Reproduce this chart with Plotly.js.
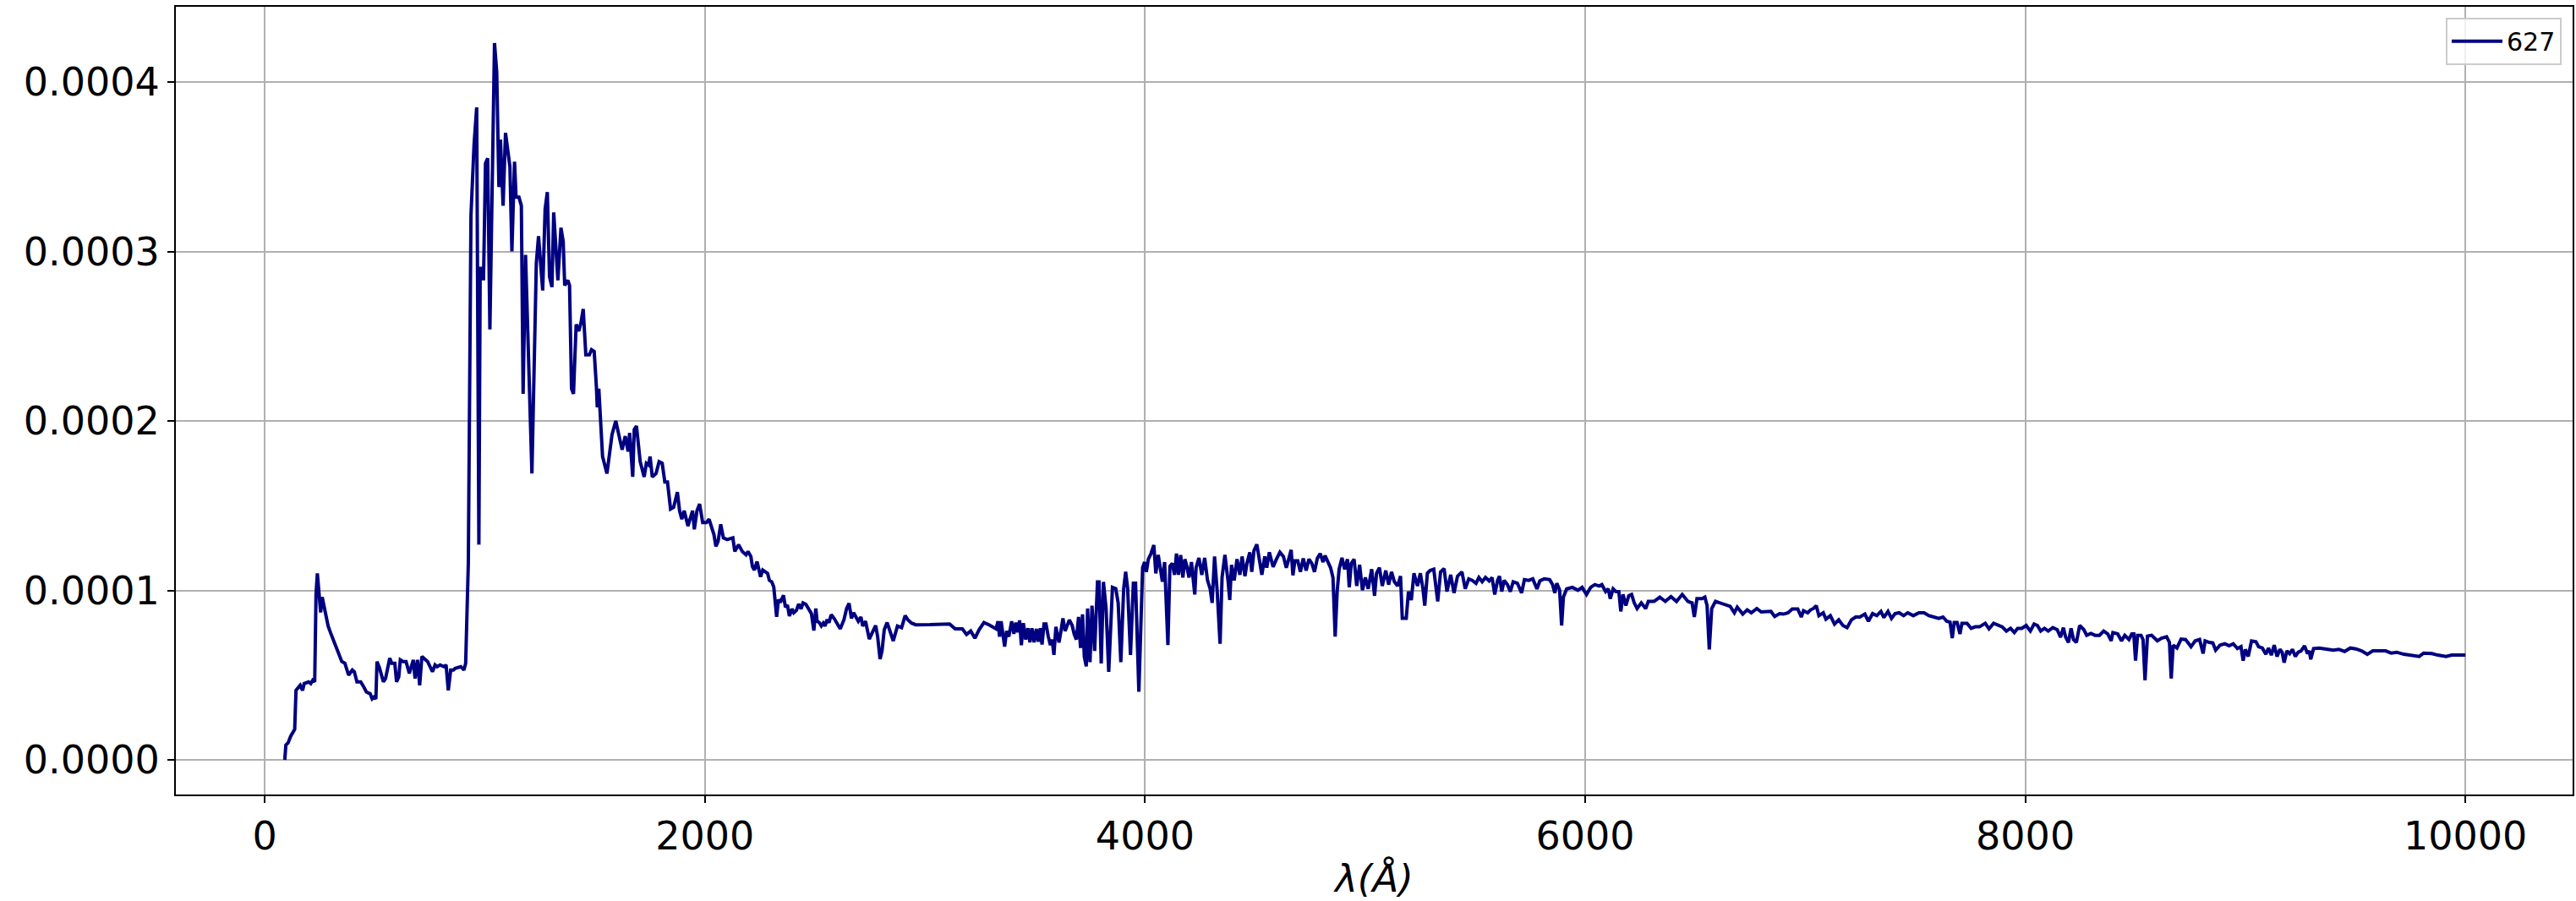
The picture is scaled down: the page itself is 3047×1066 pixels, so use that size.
<!DOCTYPE html>
<html>
<head>
<meta charset="utf-8">
<script src="https://cdn.plot.ly/plotly-3.0.1.min.js"></script>
<style>html,body{margin:0;padding:0;background:#fff;}#chart{width:3047px;height:1066px;}</style>
</head>
<body>
<div id="chart"></div>
<script>
// Wavelength (Angstrom)
const wavelength = [
91,96,106,118,136,142,161,172,179,199,209,218,227,233,239,245,254,261,276,288,299,316,333,350,364,381,398,407,419,436,450,462,479,488,496,505,510,522,539,549,568,577,591,599,609,616,628,642,657,675,683,694,704,714,740,750,762,774,783,797,814,824,834,845,857,865,891,905,913,925,937,951,963,973,979,987,994,1003,1013,1023,1044,1054,1064,1071,1083,1094,1114,1123,1135,1142,1155,1166,1174,1185,1214,1234,1244,1263,1274,1284,1294,1305,1313,1332,1346,1356,1363,1377,1385,1394,1403,1415,1427,1437,1447,1459,1475,1485,1497,1507,1511,1518,1528,1535,1555,1578,1595,1612,1624,1638,1651,1658,1672,1679,1689,1706,1724,1734,1744,1751,1761,1778,1792,1806,1818,1830,1844,1858,1875,1885,1895,1906,1923,1944,1952,1964,1976,1990,2007,2019,2029,2041,2050,2060,2072,2084,2101,2127,2136,2153,2170,2187,2196,2209,2216,2225,2237,2253,2263,2285,2293,2304,2313,2326,2334,2343,2357,2366,2375,2384,2396,2404,2416,2426,2437,
2446,2459,2472,2484,2495,2504,2510,2520,2529,2538,2546,2555,2564,2574,2587,2600,2615,2632,2644,2655,2666,2676,2687,2697,2709,2717,2730,2747,2764,2776,2785,2796,2805,2815,2828,2840,2856,2875,2894,2910,2922,2939,2958,3022,3073,3112,3137,3170,3189,3208,3227,3246,3268,3291,3323,3332,3339,3346,3355,3362,3371,3381,3394,3404,3413,3422,3430,3438,3447,3458,3468,3477,3486,3496,3506,3515,3524,3532,3541,3550,3560,3570,3578,3586,3595,
3609,3618,3627,3637,3647,3656,3669,3678,3688,3698,3707,3716,3724,3733,3739,3750,3759,3771,3784,3791,3801,3811,3823,3835,3852,3867,3878,3890,3903,3912,3921,3934,3947,3957,3972,3983,3989,3998,4006,4015,4027,4040,4049,4060,4070,4079,4089,4104,4113,4124,4134,4143,4152,4162,4172,4181,4190,4200,4211,4226,4232,4245,4258,4271,4284,4296,4305,4316,4328,4341,4350,4363,
4377,4385,4393,4405,4418,4431,4441,4454,4463,4476,4485,4495,4508,4518,4531,4544,4553,4565,4582,4597,4613,4629,4642,4651,4664,4672,4681,4694,4706,4719,4732,4745,4758,4770,4783,4796,4809,4818,4831,4843,4854,4864,4873,4882,4895,4907,4920,4928,4937,4950,4962,4975,4988,5001,5014,5030,5043,5052,5065,5078,5094,5107,5120,5133,5148,5161,5169,5180,5187,5197,5210,5222,5238,5251,5263,5271,5283,5295,5312,5330,5343,5359,5372,5389,5404,5420,5440,5455,5471,5487,5504,5517,
5532,5547,5564,5577,5589,5602,5611,5621,5632,5647,5660,5673,5692,5711,5724,5743,5762,5781,5794,5814,5839,5852,5862,5871,5884,5893,5901,5916,5942,5967,5986,6006,6025,6044,6063,6076,6093,6105,6114,6127,6140,6153,6162,6172,6185,6198,6211,6223,6236,6255,6275,6287,6313,6339,6364,6390,6415,6441,6467,6486,6496,6508,6531,6544,6554,6564,6575,6592,6614,6633,6659,6678,6691,6716,6736,6755,6780,6800,6819,6844,6861,
6883,6902,6922,6941,6966,6982,6992,7011,7024,7037,7050,7062,7082,7094,7114,7133,7152,7171,7190,7210,7229,7248,7271,7287,7306,7325,7344,7357,7376,7392,7408,7427,7447,7466,7491,7517,7540,7562,7587,7607,7626,7643,7658,7668,7677,7690,7703,7712,7735,7754,7773,7792,7818,7835,7856,7876,7895,7914,7933,7950,7965,7984,8004,8023,8040,8055,8070,8087,8104,8125,8145,8160,8173,8183,8196,8208,8219,8232,8247,8266,8279,8298,8317,8337,8356,8375,8390,8398,
8420,8437,8452,8471,8484,8493,8501,8510,8526,8535,8544,8555,8574,8600,8619,8642,8655,8663,8672,8689,8708,8728,8753,8772,8792,8808,8817,8836,8852,8865,8885,8907,8926,8945,8964,8980,8990,9000,9013,9028,9048,9060,9077,9093,9105,9118,9131,9144,9157,9167,9176,9189,9201,9214,9227,9240,9253,9269,9282,9291,9297,9310,9336,9374,9400,9425,9451,9477,9502,9528,9554,9579,9611,9637,9662,9688,9720,9746,9771,9790,9810,9848,9874,9912,9938,10000
];
// Flux for spectrum 627
const flux627 = [
0.0,8.8e-6,1.0e-5,1.4e-5,1.8e-5,4.1e-5,4.4e-5,4.1e-5,4.5e-5,4.6e-5,4.5e-5,4.7e-5,4.6e-5,9.8e-5,1.10e-4,1.01e-4,8.7e-5,9.6e-5,8.7e-5,7.9e-5,7.5e-5,6.9e-5,6.3e-5,5.8e-5,5.7e-5,5.0e-5,5.3e-5,5.2e-5,4.6e-5,4.6e-5,4.3e-5,4.0e-5,3.9e-5,3.6e-5,3.7e-5,3.6e-5,5.8e-5,5.4e-5,4.6e-5,4.8e-5,6.0e-5,5.7e-5,5.7e-5,4.6e-5,4.9e-5,5.9e-5,5.8e-5,5.8e-5,5.1e-5,5.9e-5,4.8e-5,5.9e-5,4.4e-5,6.1e-5,5.8e-5,5.5e-5,5.2e-5,5.6e-5,5.5e-5,5.6e-5,5.5e-5,5.6e-5,4.1e-5,5.3e-5,5.3e-5,5.4e-5,5.5e-5,5.3e-5,5.7e-5,1.16e-4,3.21e-4,3.63e-4,3.85e-4,1.27e-4,2.90e-4,2.90e-4,2.83e-4,3.52e-4,3.55e-4,2.54e-4,4.23e-4,4.06e-4,3.38e-4,3.66e-4,3.27e-4,3.70e-4,3.50e-4,3.00e-4,3.53e-4,3.32e-4,3.32e-4,3.27e-4,2.16e-4,2.98e-4,1.69e-4,2.93e-4,3.09e-4,2.77e-4,3.25e-4,3.35e-4,2.85e-4,2.79e-4,3.23e-4,2.83e-4,3.14e-4,3.06e-4,2.80e-4,2.83e-4,2.80e-4,2.19e-4,2.16e-4,2.57e-4,2.53e-4,2.58e-4,2.66e-4,2.39e-4,2.39e-4,2.42e-4,2.41e-4,2.20e-4,2.08e-4,2.19e-4,1.97e-4,1.79e-4,1.69e-4,1.92e-4,2.00e-4,1.90e-4,1.83e-4,1.91e-4,1.82e-4,1.93e-4,1.67e-4,1.95e-4,1.97e-4,1.76e-4,1.67e-4,1.75e-4,1.74e-4,1.79e-4,1.67e-4,1.69e-4,1.76e-4,1.75e-4,1.64e-4,1.64e-4,1.48e-4,1.49e-4,1.58e-4,1.47e-4,1.42e-4,1.47e-4,1.38e-4,1.47e-4,1.36e-4,1.47e-4,1.51e-4,1.40e-4,1.40e-4,1.42e-4,1.38e-4,1.33e-4,1.26e-4,1.29e-4,1.39e-4,1.31e-4,1.30e-4,1.31e-4,1.23e-4,1.27e-4,1.23e-4,1.21e-4,1.23e-4,1.20e-4,1.14e-4,1.12e-4,1.17e-4,1.08e-4,1.12e-4,1.10e-4,1.06e-4,1.05e-4,1.02e-4,8.44e-5,9.45e-5,9.29e-5,9.71e-5,9.01e-5,9.14e-5,8.49e-5,8.91e-5,8.68e-5,8.82e-5,9.20e-5,8.91e-5,
9.26e-5,9.18e-5,8.93e-5,8.63e-5,7.63e-5,8.93e-5,8.18e-5,8.10e-5,7.90e-5,8.07e-5,7.90e-5,8.27e-5,8.10e-5,8.57e-5,8.35e-5,8.02e-5,7.73e-5,8.27e-5,8.93e-5,9.23e-5,8.35e-5,8.68e-5,8.43e-5,8.18e-5,8.43e-5,7.90e-5,8.18e-5,7.13e-5,7.60e-5,7.93e-5,7.27e-5,5.94e-5,6.44e-5,7.68e-5,8.10e-5,7.68e-5,7.02e-5,7.90e-5,7.80e-5,8.51e-5,8.27e-5,8.07e-5,7.97e-5,7.98e-5,8.02e-5,8.02e-5,7.73e-5,7.73e-5,7.40e-5,7.60e-5,7.18e-5,7.68e-5,8.10e-5,7.97e-5,7.73e-5,8.18e-5,7.27e-5,8.18e-5,7.35e-5,6.69e-5,7.60e-5,7.27e-5,8.18e-5,7.43e-5,8.10e-5,7.52e-5,8.23e-5,6.77e-5,8.07e-5,7.10e-5,7.77e-5,6.94e-5,7.77e-5,6.94e-5,7.73e-5,6.97e-5,7.77e-5,6.80e-5,8.02e-5,8.02e-5,7.30e-5,6.77e-5,7.10e-5,6.19e-5,7.85e-5,
6.93e-5,7.60e-5,8.35e-5,7.60e-5,7.93e-5,8.26e-5,7.93e-5,7.43e-5,7.10e-5,8.43e-5,6.60e-5,8.59e-5,6.10e-5,5.52e-5,8.93e-5,5.77e-5,9.10e-5,6.43e-5,1.05e-4,1.05e-4,5.69e-5,1.05e-4,8.93e-5,5.19e-5,1.018e-4,1.01e-4,9.26e-5,5.77e-5,1.01e-4,1.11e-4,1.01e-4,6.19e-5,1.042e-4,1.042e-4,4.02e-5,9.93e-5,1.134e-4,1.167e-4,1.109e-4,1.184e-4,1.217e-4,1.267e-4,1.10e-4,1.209e-4,1.117e-4,1.051e-4,1.167e-4,6.77e-5,1.142e-4,1.159e-4,1.092e-4,1.217e-4,1.092e-4,1.209e-4,1.076e-4,1.184e-4,1.142e-4,1.076e-4,1.167e-4,9.76e-5,1.134e-4,1.192e-4,1.092e-4,1.192e-4,1.059e-4,1.009e-4,9.26e-5,1.200e-4,9.93e-5,6.85e-5,1.076e-4,1.209e-4,
1.059e-4,9.43e-5,1.151e-4,1.059e-4,1.184e-4,1.092e-4,1.200e-4,1.084e-4,1.159e-4,1.225e-4,1.109e-4,1.234e-4,1.272e-4,1.200e-4,1.092e-4,1.200e-4,1.134e-4,1.225e-4,1.139e-4,1.184e-4,1.225e-4,1.200e-4,1.134e-4,1.175e-4,1.239e-4,1.089e-4,1.175e-4,1.175e-4,1.109e-4,1.189e-4,1.117e-4,1.184e-4,1.159e-4,1.109e-4,1.189e-4,1.217e-4,1.167e-4,1.205e-4,1.167e-4,1.134e-4,1.076e-4,7.27e-5,9.93e-5,1.125e-4,1.192e-4,1.125e-4,1.184e-4,1.018e-4,1.159e-4,1.184e-4,1.026e-4,1.151e-4,1.001e-4,1.076e-4,1.009e-4,1.125e-4,9.68e-5,1.101e-4,1.134e-4,1.026e-4,1.117e-4,1.034e-4,1.109e-4,1.051e-4,1.026e-4,1.084e-4,8.35e-5,8.35e-5,8.35e-5,9.93e-5,9.43e-5,1.101e-4,1.026e-4,1.101e-4,1.009e-4,9.10e-5,1.101e-4,1.117e-4,1.125e-4,9.35e-5,1.109e-4,1.129e-4,9.93e-5,1.092e-4,9.85e-5,1.084e-4,1.109e-4,1.009e-4,1.068e-4,1.059e-4,1.042e-4,1.076e-4,
1.051e-4,1.076e-4,1.056e-4,1.076e-4,9.76e-5,1.059e-4,1.084e-4,9.93e-5,1.059e-4,1.034e-4,9.93e-5,1.051e-4,1.042e-4,9.85e-5,1.063e-4,1.059e-4,1.068e-4,1.009e-4,1.056e-4,1.068e-4,1.063e-4,1.034e-4,9.85e-5,1.042e-4,1.001e-4,7.93e-5,9.60e-5,1.009e-4,1.018e-4,1.001e-4,1.018e-4,9.76e-5,1.018e-4,1.034e-4,1.026e-4,1.034e-4,9.93e-5,1.009e-4,9.51e-5,1.009e-4,9.93e-5,9.93e-5,8.76e-5,9.76e-5,9.10e-5,9.68e-5,9.76e-5,9.26e-5,8.93e-5,9.26e-5,8.93e-5,9.35e-5,9.35e-5,9.60e-5,9.35e-5,9.63e-5,9.35e-5,9.76e-5,9.35e-5,9.26e-5,8.43e-5,9.51e-5,9.51e-5,9.60e-5,9.10e-5,6.52e-5,8.93e-5,9.35e-5,9.26e-5,9.18e-5,9.06e-5,8.68e-5,9.01e-5,8.60e-5,8.85e-5,8.68e-5,8.93e-5,8.73e-5,8.76e-5,8.76e-5,8.46e-5,
8.63e-5,8.60e-5,8.68e-5,8.90e-5,8.90e-5,8.43e-5,8.80e-5,8.68e-5,8.85e-5,8.93e-5,9.10e-5,8.51e-5,8.68e-5,8.30e-5,8.51e-5,8.01e-5,8.26e-5,7.93e-5,7.80e-5,8.26e-5,8.43e-5,8.43e-5,8.60e-5,8.18e-5,8.63e-5,8.51e-5,8.76e-5,8.40e-5,8.76e-5,8.35e-5,8.63e-5,8.68e-5,8.51e-5,8.68e-5,8.51e-5,8.68e-5,8.68e-5,8.51e-5,8.43e-5,8.35e-5,8.43e-5,8.18e-5,8.13e-5,7.18e-5,8.10e-5,8.10e-5,7.43e-5,8.06e-5,8.06e-5,7.76e-5,7.85e-5,7.85e-5,8.06e-5,7.73e-5,8.06e-5,7.96e-5,7.85e-5,7.60e-5,7.76e-5,7.51e-5,7.76e-5,7.76e-5,7.93e-5,7.60e-5,8.01e-5,7.93e-5,7.60e-5,7.76e-5,7.60e-5,7.80e-5,7.68e-5,7.23e-5,7.80e-5,7.26e-5,6.93e-5,7.76e-5,7.10e-5,6.93e-5,7.93e-5,7.68e-5,7.35e-5,7.46e-5,7.35e-5,7.35e-5,7.60e-5,7.43e-5,7.02e-5,7.51e-5,
7.43e-5,7.02e-5,7.35e-5,7.10e-5,7.43e-5,7.43e-5,5.85e-5,7.35e-5,7.35e-5,7.10e-5,4.69e-5,7.30e-5,7.35e-5,7.02e-5,7.18e-5,7.26e-5,6.93e-5,4.80e-5,6.77e-5,6.60e-5,7.13e-5,7.10e-5,6.68e-5,7.02e-5,7.10e-5,6.27e-5,7.02e-5,6.93e-5,6.90e-5,6.47e-5,6.77e-5,6.85e-5,6.73e-5,6.85e-5,6.57e-5,6.68e-5,5.85e-5,6.52e-5,6.10e-5,7.02e-5,6.97e-5,6.68e-5,6.60e-5,6.23e-5,6.60e-5,6.18e-5,6.77e-5,6.10e-5,6.52e-5,6.35e-5,5.74e-5,6.43e-5,6.27e-5,6.52e-5,6.10e-5,6.35e-5,6.43e-5,6.73e-5,6.27e-5,6.43e-5,5.93e-5,6.57e-5,6.60e-5,6.52e-5,6.47e-5,6.52e-5,6.40e-5,6.60e-5,6.55e-5,6.43e-5,6.23e-5,6.43e-5,6.43e-5,6.43e-5,6.30e-5,6.35e-5,6.23e-5,6.18e-5,6.18e-5,6.10e-5,6.30e-5,6.27e-5,6.18e-5,6.10e-5,6.18e-5,6.18e-5
];
const seriesName = '627';
const xTickVals = [0, 2000, 4000, 6000, 8000, 10000];
const xTickText = ['0', '2000', '4000', '6000', '8000', '10000'];
const yTickVals = [0, 0.0001, 0.0002, 0.0003, 0.0004];
const yTickText = ['0.0000', '0.0001', '0.0002', '0.0003', '0.0004'];

const trace = {
  x: wavelength, y: flux627, type: 'scatter', mode: 'lines', name: seriesName,
  line: {color: '#000080', width: 4}
};
const axisCommon = {
  showgrid: true, gridcolor: '#b0b0b0', gridwidth: 2, zeroline: false,
  showline: true, mirror: true, linecolor: 'black', linewidth: 2,
  ticks: 'outside', ticklen: 8, tickwidth: 2, tickcolor: 'black',
  tickfont: {family: 'DejaVu Sans', size: 46, color: 'black'}
};
const layout = {
  width: 3047, height: 1066,
  margin: {l: 208, r: 4, t: 8, b: 126, pad: 0},
  paper_bgcolor: 'white', plot_bgcolor: 'white',
  font: {family: 'DejaVu Sans', color: 'black', size: 44},
  showlegend: true,
  xaxis: Object.assign({}, axisCommon, {
    range: [-404, 10487], tickmode: 'array', tickvals: xTickVals, ticktext: xTickText,
    title: {text: '<i>λ(Å)</i>', font: {family: 'DejaVu Sans', size: 45, color: 'black'}, standoff: 20}
  }),
  yaxis: Object.assign({}, axisCommon, {
    range: [-2.045e-5, 4.444e-4], tickmode: 'array', tickvals: yTickVals, ticktext: yTickText
  }),
  legend: {
    x: 0.9954, y: 0.9864, xanchor: 'right', yanchor: 'top',
    bgcolor: 'rgba(255,255,255,0.8)', bordercolor: '#cccccc', borderwidth: 2,
    itemwidth: 60,
    font: {family: 'DejaVu Sans', size: 30, color: 'black'}
  }
};
Plotly.newPlot('chart', [trace], layout, {staticPlot: true, displayModeBar: false});
</script>
</body>
</html>
